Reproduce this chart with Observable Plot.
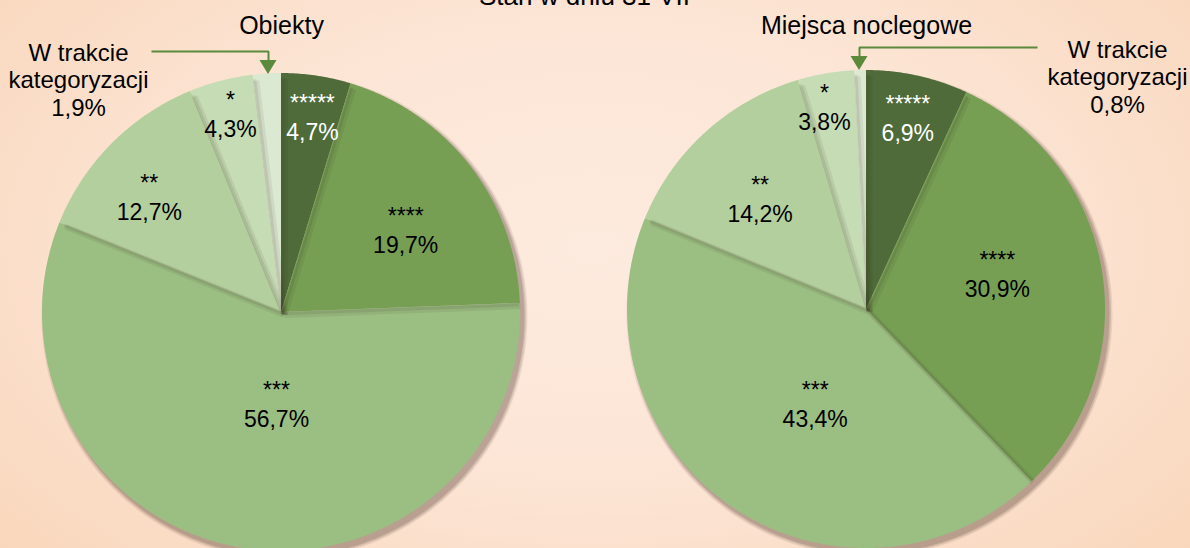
<!DOCTYPE html>
<html>
<head>
<meta charset="utf-8">
<script src="https://cdn.jsdelivr.net/npm/d3@7"></script>
<script src="https://cdn.jsdelivr.net/npm/@observablehq/plot@0.6"></script>
<style>
  html, body { margin: 0; padding: 0; }
  body { width: 1190px; height: 548px; overflow: hidden; }
  #chart svg { display: block; overflow: hidden; }
</style>
</head>
<body>
<div id="chart"></div>
<script>
// ---------- DATA ----------
const title = "Stan w dniu 31 VII";
const charts = ["Obiekty", "Miejsca noclegowe"];
const categories = ["*****", "****", "***", "**", "*", "W trakcie kategoryzacji"];
const obiekty = [4.7, 19.7, 56.7, 12.7, 4.3, 1.9];
const miejsca = [6.9, 30.9, 43.4, 14.2, 3.8, 0.8];
const series = [obiekty, miejsca];

// ---------- LAYOUT / STYLE ----------
const W = 1190, H = 548;
const R = 239;
const PIES = [{cx: 281, cy: 312}, {cx: 866, cy: 309}];
const COLORS = ["#4e6b39", "#769f54", "#9bbe83", "#b3cf9d", "#c5dcb4", "#dce9d2"];
const LABEL_COLORS = ["#ffffff", "#000000", "#000000", "#000000", "#000000"];
// [radial fraction, angular nudge in degrees] for each inside label
const LABEL_POS = [
  [[0.84, 0.4], [0.63, 3.2], [0.375, -6.7], [0.74, -3.2], [0.866, 0.3]],
  [[0.83, -0.4], [0.57, -6.7], [0.44, -5.0], [0.65, -1.1], [0.875, -1.9]]
];
const TITLE_POS = [{x: 281, y: 25}, {x: 866, y: 25}];
const MAIN_TITLE_POS = {x: 584, y: -4};
const CALLOUT_POS = [{x: 78, y: 79}, {x: 1117, y: 76}];
const ARROWS = [
  {path: [[151, 51], [268, 51], [268, 60]], tip: [268, 74]},
  {path: [[1037, 47], [859, 47], [859, 56]], tip: [859, 70]}
];
const ARROW_COLOR = "#5b8a3c";
const FONT = "'Liberation Sans', Arial, Helvetica, sans-serif";

const fmt = v => v.toFixed(1).replace(".", ",") + "%";

// ---------- BUILD TABLES ----------
const slicePts = [];
const labels = [];
const edges = [];
series.forEach((vals, p) => {
  const {cx, cy} = PIES[p];
  const total = d3.sum(vals);
  let cum = 0;
  vals.forEach((v, i) => {
    const a0 = cum / total * 2 * Math.PI;
    cum += v;
    const a1 = cum / total * 2 * Math.PI;
    const n = Math.max(2, Math.ceil((a1 - a0) / (Math.PI / 360)));
    for (let j = 0; j <= n; j++) {
      const a = a0 + (a1 - a0) * j / n;
      slicePts.push({key: p + "-" + i, x: cx + R * Math.sin(a), y: cy - R * Math.cos(a), cx, cy, color: COLORS[i]});
    }
    edges.push({cx, cy, x: cx + (R - 3) * Math.sin(a0), y: cy - (R - 3) * Math.cos(a0)});
    if (i < LABEL_POS[p].length) {
      const [k, nudge] = LABEL_POS[p][i];
      const am = (a0 + a1) / 2 + nudge * Math.PI / 180;
      labels.push({
        x: cx + k * R * Math.sin(am),
        y: cy - k * R * Math.cos(am),
        stars: categories[i],
        pct: fmt(v),
        color: LABEL_COLORS[i]
      });
    }
  });
});

const splitAt = s => { const k = s.lastIndexOf(" "); return s.slice(0, k) + "\n" + s.slice(k + 1); };
const callouts = series.map((vals, p) => ({
  x: CALLOUT_POS[p].x, y: CALLOUT_POS[p].y,
  text: splitAt(categories[5]) + "\n" + fmt(vals[5])
}));

const titles = charts.map((c, p) => ({x: TITLE_POS[p].x, y: TITLE_POS[p].y, text: c}));

// soft shadow rings under each pie (offset down-right)
const SHADOW = [{dr: 4, op: 0.10}, {dr: 2.5, op: 0.14}, {dr: 1, op: 0.18}];
const shadows = [];
PIES.forEach(pc => SHADOW.forEach(s => shadows.push({x: pc.cx + 3, y: pc.cy + 4, r: R + s.dr, op: s.op})));

const arrowLines = [];
const arrowHeads = [];
ARROWS.forEach((a, p) => {
  a.path.forEach(([x, y]) => arrowLines.push({key: p, x, y}));
  const [tx, ty] = a.tip;
  arrowHeads.push({key: p, x1: tx - 8.5, y1: ty - 14, x2: tx, y2: ty});
  arrowHeads.push({key: p, x1: tx + 8.5, y1: ty - 14, x2: tx, y2: ty});
});

// ---------- PLOT ----------
const chart = Plot.plot({
  width: W,
  height: H,
  margin: 0,
  x: {domain: [0, W], range: [0, W], axis: null},
  y: {domain: [0, H], range: [0, H], axis: null},
  r: {type: "identity"},
  style: {
    background: "radial-gradient(ellipse 75% 95% at 50% 45%, #fdebdf 0%, #fce5d5 45%, #f8d3b5 100%)",
    fontFamily: FONT,
    color: "#000"
  },
  marks: [
    Plot.dot(shadows, {x: "x", y: "y", r: "r", fill: "#4a3428", fillOpacity: "op", stroke: null}),
    Plot.area(slicePts, {
      x1: "x", y1: "y", x2: "cx", y2: "cy", z: "key",
      fill: "color"
    }),
    Plot.link(edges, {x1: "cx", y1: "cy", x2: "x", y2: "y", stroke: "#2e2a1e", strokeOpacity: 0.08, strokeWidth: 6, dx: 3, dy: 2.5, strokeLinecap: "butt"}),
    Plot.link(edges, {x1: "cx", y1: "cy", x2: "x", y2: "y", stroke: "#2e2a1e", strokeOpacity: 0.10, strokeWidth: 3, dx: 1.5, dy: 1.2, strokeLinecap: "butt"}),
    Plot.text(labels, {x: "x", y: "y", text: "stars", fill: "color", fontSize: 23, dy: -11}),
    Plot.text(labels, {x: "x", y: "y", text: "pct", fill: "color", fontSize: 23, dy: 18}),
    Plot.text(titles, {x: "x", y: "y", text: "text", fontSize: 25, fill: "#000"}),
    Plot.text([title], {x: MAIN_TITLE_POS.x, y: MAIN_TITLE_POS.y, text: d => d, fontSize: 26, fill: "#000"}),
    Plot.text(callouts, {x: "x", y: "y", text: "text", fontSize: 24, lineHeight: 1.14, fill: "#000"}),
    Plot.line(arrowLines, {x: "x", y: "y", z: "key", stroke: ARROW_COLOR, strokeWidth: 2, strokeLinecap: "butt", strokeLinejoin: "miter"}),
    Plot.area(arrowHeads, {x1: "x1", y1: "y1", x2: "x2", y2: "y2", z: "key", fill: ARROW_COLOR})
  ],
  color: {type: "identity"}
});

document.getElementById("chart").appendChild(chart);
</script>
</body>
</html>
